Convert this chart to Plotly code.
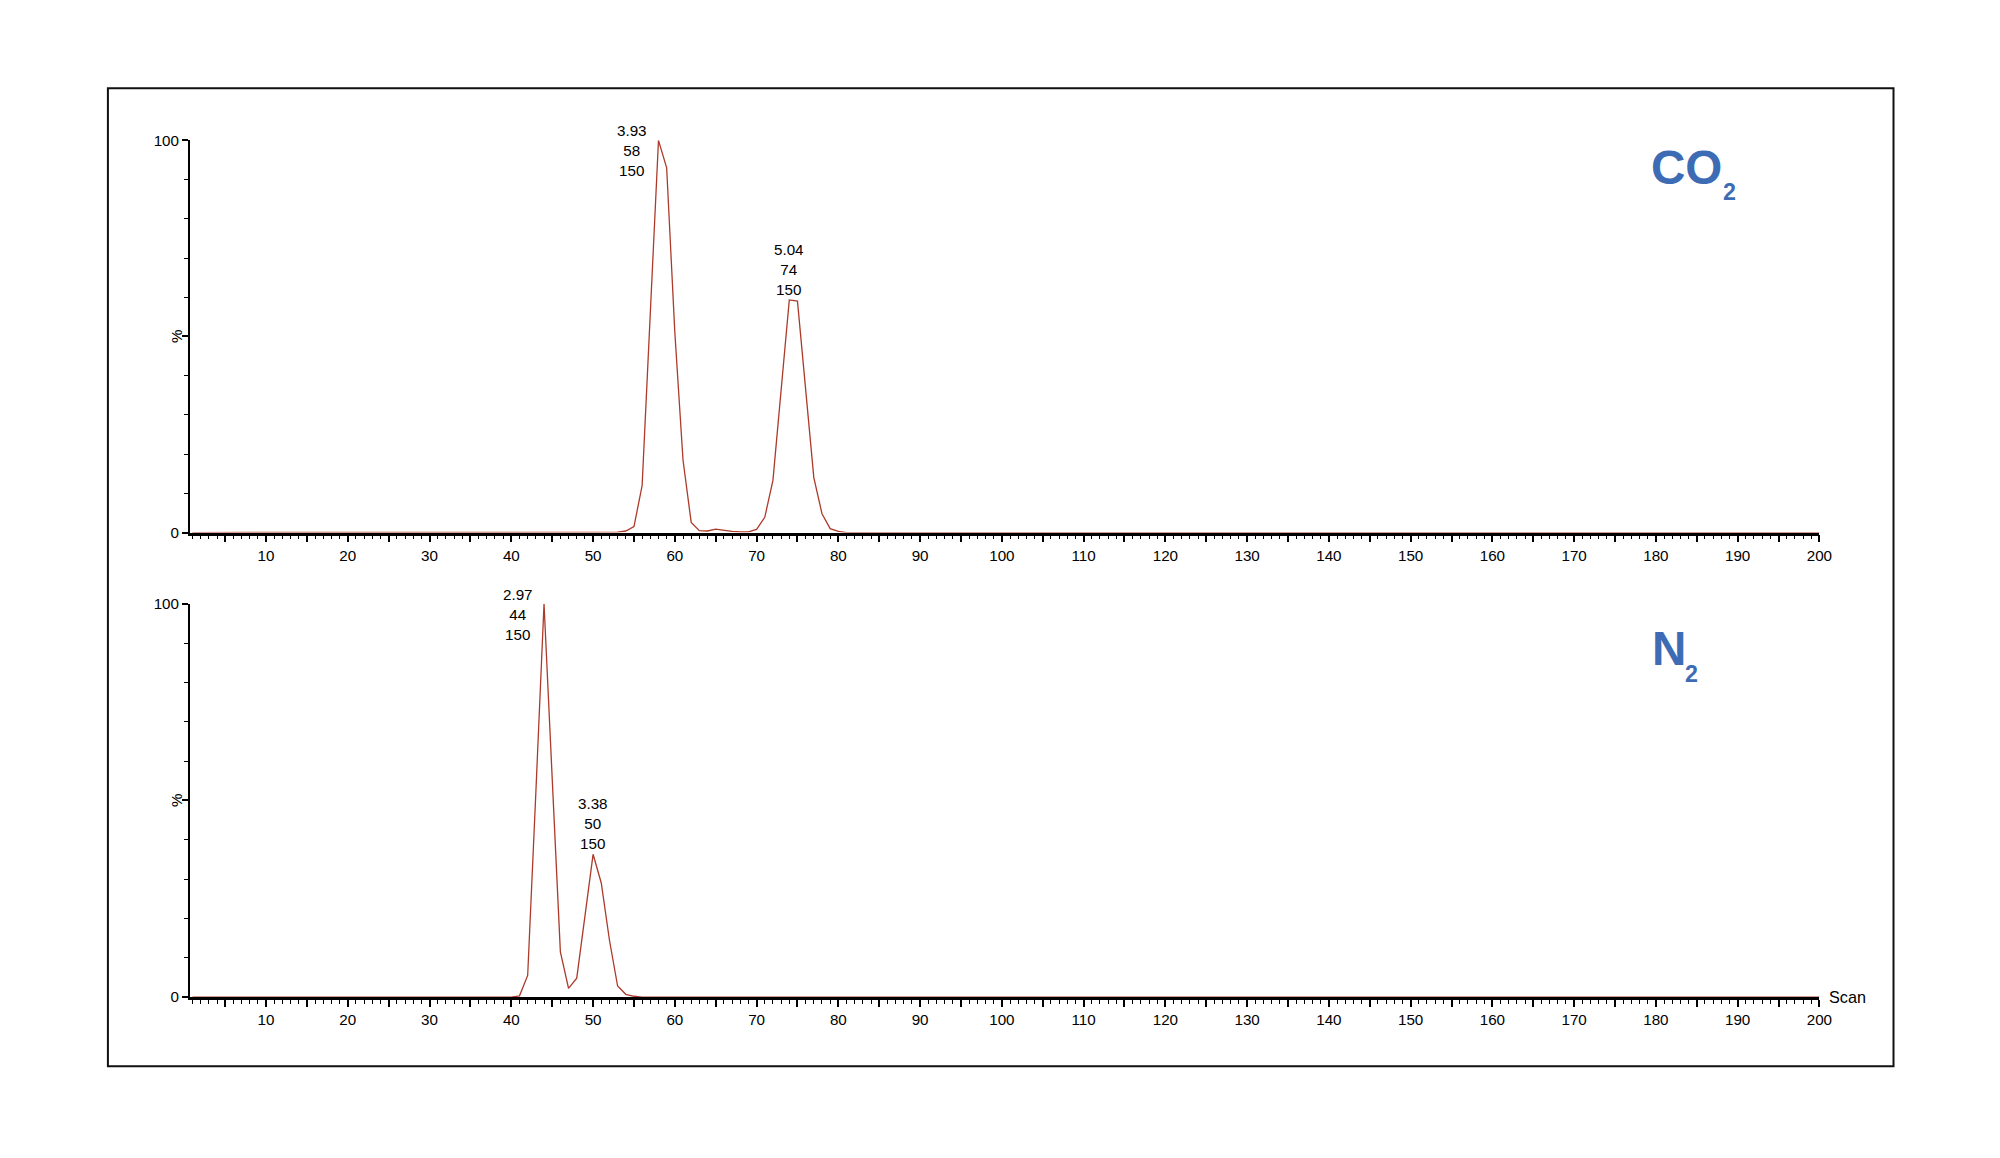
import plotly.graph_objects as go

# ---------------- data ----------------
# CO2 chromatogram: scan number vs relative intensity (%)
co2_scan = [1, 52, 53, 54, 55, 56, 57, 58, 59, 60, 61, 62, 63, 64, 65, 66, 67, 68, 69,
            70, 71, 72, 73, 74, 75, 76, 77, 78, 79, 80, 81, 200]
co2_pct = [0, 0, 0.1, 0.4, 1.5, 12, 55, 100, 93, 51, 18.5, 2.6, 0.5, 0.4, 0.9, 0.6, 0.3, 0.2, 0.2,
           0.8, 3.9, 13.3, 36, 59.3, 59, 35.5, 14, 4.8, 1.0, 0.3, 0, 0]

# N2 chromatogram
n2_scan = [1, 40, 41, 42, 43, 44, 45, 46, 47, 48, 49, 50, 51, 52, 53, 54, 55, 56, 200]
n2_pct = [0, 0, 0.3, 5.5, 52, 100, 55.6, 11.5, 2.2, 4.8, 20.5, 36.3, 29, 14.5, 2.8, 0.7, 0.2, 0, 0]

# peak labels: retention time, scan, third line
co2_peak_scan = [58, 74]
co2_peak_rt = ["3.93", "5.04"]
co2_peak_val = [100, 59.3]
n2_peak_scan = [44, 50]
n2_peak_rt = ["2.97", "3.38"]
n2_peak_val = [100, 36.3]
peak_third = "150"

x_tick_vals = list(range(5, 201, 5))
x_tick_text = [str(v) if v % 10 == 0 else "" for v in x_tick_vals]
y_tick_vals = [0, 50, 100]
y_tick_text = ["0", "", "100"]

panel_names = [("CO", "2"), ("N", "2")]

# ---------------- figure ----------------
# page is 2000x1158 with the browser's default 8px body margin
M = 8
W, H = 2000 - 2 * M, 1158 - 2 * M
# calibration of the capture (observed = a * intended + b)
AX, BX = 0.992, 0.3
AY, BY = 0.982, 10.2
FS = 1.0 / 0.987  # font scale compensation
FONT = "Liberation Sans, Arial, sans-serif"
LINE_COLOR = "rgb(172,58,42)"
TITLE_COLOR = "rgb(62,108,180)"


def px(p):  # target pixel column -> paper x
    return ((p - BX) / AX - M) / W


def py(p):  # target pixel row -> paper y
    return 1 - ((p - BY) / AY - M) / H


def fs(s):
    return round(s * FS, 1)


fig = go.Figure()
fig.add_trace(go.Scatter(x=co2_scan, y=co2_pct, mode="lines", xaxis="x", yaxis="y",
                         line=dict(color=LINE_COLOR, width=1.3), cliponaxis=False,
                         hoverinfo="skip", showlegend=False))
fig.add_trace(go.Scatter(x=n2_scan, y=n2_pct, mode="lines", xaxis="x2", yaxis="y2",
                         line=dict(color=LINE_COLOR, width=1.3), cliponaxis=False,
                         hoverinfo="skip", showlegend=False))

xdom = [px(190), px(1817)]
xax = dict(range=[0.7, 200], domain=xdom, showline=True, linecolor="black", linewidth=2.5,
           ticks="outside", tickmode="array", tickvals=x_tick_vals, ticktext=x_tick_text,
           ticklen=7, tickwidth=1.5, tickcolor="black",
           minor=dict(ticks="outside", tickmode="linear", tick0=0, dtick=1, ticklen=4,
                      tickwidth=1, tickcolor="black"),
           showgrid=False, zeroline=False, layer="below traces",
           tickfont=dict(family=FONT, size=fs(15), color="black"), fixedrange=True)
yax = dict(range=[0, 100], showline=True, linecolor="black", linewidth=2,
           ticks="outside", tickmode="array", tickvals=y_tick_vals, ticktext=y_tick_text,
           ticklen=6, tickwidth=1.5, tickcolor="black",
           minor=dict(ticks="outside", tickmode="linear", tick0=0, dtick=10, ticklen=4,
                      tickwidth=1, tickcolor="black"),
           showgrid=False, zeroline=False,
           tickfont=dict(family=FONT, size=fs(15), color="black"), fixedrange=True)

fig.update_layout(
    width=W, height=H, margin=dict(l=0, r=0, t=0, b=0),
    paper_bgcolor="white", plot_bgcolor="white", showlegend=False,
    xaxis=dict(xax, anchor="y"),
    yaxis=dict(yax, domain=[py(532), py(141)], anchor="x"),
    xaxis2=dict(xax, anchor="y2"),
    yaxis2=dict(yax, domain=[py(995), py(603)], anchor="x2"),
)

# outer frame
fig.add_shape(type="rect", xref="paper", yref="paper", x0=px(108), x1=px(1891),
              y0=py(1064), y1=py(89), line=dict(color="#111", width=2))

lab_font = dict(family=FONT, size=fs(15), color="black")
panels = [("x", "y", co2_peak_scan, co2_peak_rt, co2_peak_val),
          ("x2", "y2", n2_peak_scan, n2_peak_rt, n2_peak_val)]
for xr, yr, pscan, prt, pval in panels:
    # main peak: label to the left, with a short dash at the apex
    fig.add_annotation(x=pscan[0] - 3.2, y=pval[0], xref=xr, yref=yr,
                       text=f"{prt[0]}<br>{pscan[0]}<br>{peak_third}", showarrow=False,
                       xanchor="center", yanchor="top", yshift=20, align="center", font=lab_font)
    fig.add_shape(type="line", xref=xr, yref=yr, x0=pscan[0] - 1.15, x1=pscan[0],
                  y0=pval[0] + 1, y1=pval[0] + 1, line=dict(color="black", width=1.3))
    # second peak: label above apex
    fig.add_annotation(x=pscan[1], y=pval[1], xref=xr, yref=yr,
                       text=f"{prt[1]}<br>{pscan[1]}<br>{peak_third}", showarrow=False,
                       xanchor="center", yanchor="bottom", yshift=0, align="center", font=lab_font)
    # % label on y-axis
    fig.add_annotation(x=px(176.5), y=50, xref="paper", yref=yr, text="%", textangle=-90,
                       showarrow=False, xanchor="center", yanchor="middle", font=lab_font)

# Scan label at the end of the bottom x-axis
fig.add_annotation(x=px(1825), y=0, xref="paper", yref="y2", text="Scan", showarrow=False,
                   xanchor="left", yanchor="middle",
                   font=dict(family=FONT, size=fs(16), color="black"))

# panel titles (CO2, N2)
title_pos = [(1647, 168, 1719, 192.5), (1648, 648, 1681, 672.5)]
for (big, small), (bx, by, sx, sy) in zip(panel_names, title_pos):
    fig.add_annotation(x=px(bx), y=py(by), xref="paper", yref="paper", text=f"<b>{big}</b>",
                       showarrow=False, xanchor="left", yanchor="middle",
                       font=dict(family=FONT, size=fs(47), color=TITLE_COLOR))
    fig.add_annotation(x=px(sx), y=py(sy), xref="paper", yref="paper", text=f"<b>{small}</b>",
                       showarrow=False, xanchor="left", yanchor="middle",
                       font=dict(family=FONT, size=fs(23), color=TITLE_COLOR))

fig.write_html("out.html", config={"displayModeBar": False})
